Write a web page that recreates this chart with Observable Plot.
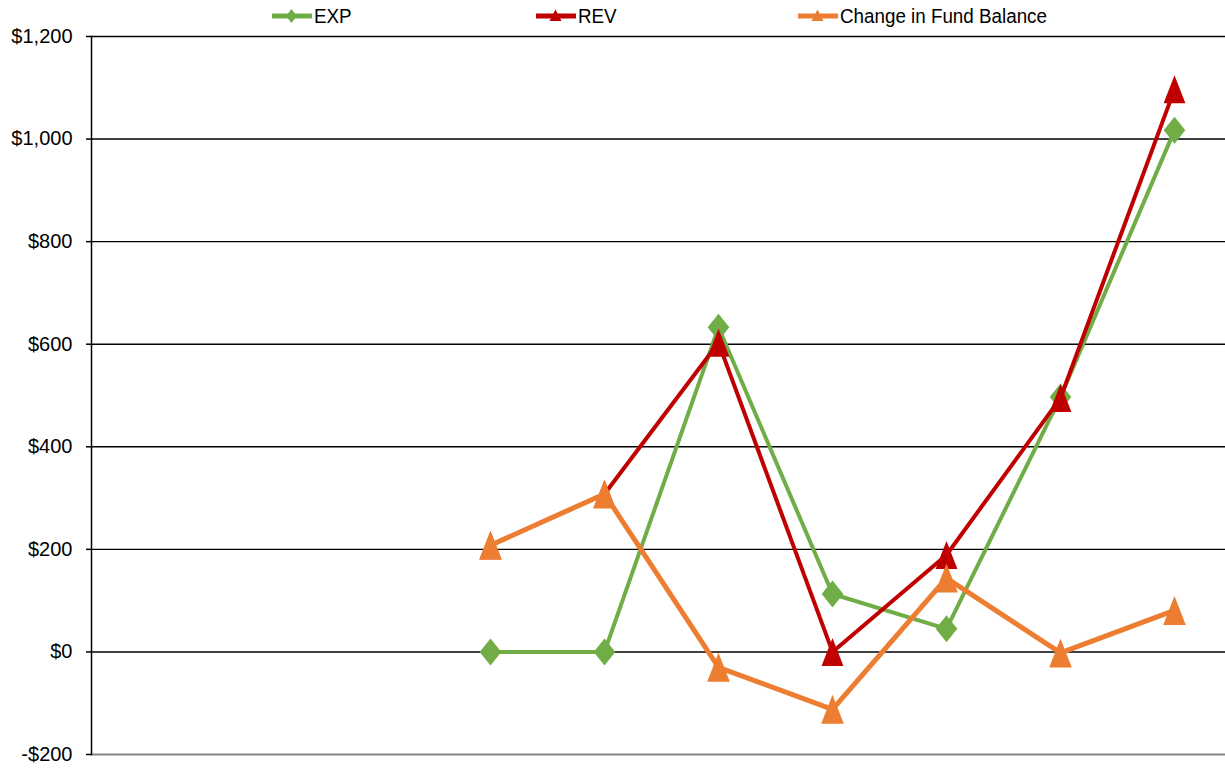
<!DOCTYPE html>
<html>
<head>
<meta charset="utf-8">
<script src="https://cdn.jsdelivr.net/npm/d3@7"></script>
<script src="https://cdn.jsdelivr.net/npm/@observablehq/plot@0.6"></script>
<style>
  html, body { margin: 0; padding: 0; background: #fff; }
  body { width: 1225px; height: 770px; overflow: hidden; font-family: "Liberation Sans", Arial, sans-serif; }
  #legend { position: relative; height: 16px; width: 1225px; z-index: 2; }
  .item { position: absolute; top: 4px; height: 24px; display: flex; align-items: center; }
  .item svg { display: block; }
  .item span { display: inline-block; font-size: 20px; color: #000; transform: scaleX(0.94); transform-origin: left center; margin-left: 2px; white-space: nowrap; }
  #chart { position: relative; z-index: 1; }
  #chart svg { display: block; }
</style>
</head>
<body>
<div id="legend"></div>
<div id="chart"></div>
<script>
// ---- data ----
const categories = ["P1", "P2", "P3", "P4", "P5", "P6", "P7", "P8", "P9", "P10"];
const expValues = [null, null, null, 0, 0, 633, 113, 45, 497, 1017];
const revValues = [null, null, null, 208, 308, 603, 0, 189, 495, 1097];
const changeValues = [null, null, null, 208, 308, -30, -112, 144, -2, 81];
const seriesNames = ["EXP", "REV", "Change in Fund Balance"];
const seriesColors = ["#70AD47", "#C00000", "#ED7D31"];
const yTicks = [-200, 0, 200, 400, 600, 800, 1000, 1200];

// ---- custom symbols ----
const tallDiamond = {
  draw(ctx, size) {
    const r = Math.sqrt(size / Math.PI);
    ctx.moveTo(0, -r); ctx.lineTo(0.8 * r, 0); ctx.lineTo(0, r); ctx.lineTo(-0.8 * r, 0); ctx.closePath();
  }
};
const tallTriangle = {
  draw(ctx, size) {
    const r = Math.sqrt(size / Math.PI);
    ctx.moveTo(0, -r); ctx.lineTo(0.78 * r, r); ctx.lineTo(-0.78 * r, r); ctx.closePath();
  }
};

function toRows(values) {
  return categories.map((c, i) => ({cat: c, value: values[i]})).filter(d => d.value != null);
}
const expRows = toRows(expValues);
const revRows = toRows(revValues);
const chgRows = toRows(changeValues);

const fmt = d => (d < 0 ? "-" : "") + "$" + d3.format(",")(Math.abs(d));

// ---- legend ----
const legend = document.getElementById("legend");
const legendLeft = [272, 536, 798];
const legendSymbols = ["diamond", "triangle", "triangle"];
seriesNames.forEach((name, i) => {
  const div = document.createElement("div");
  div.className = "item";
  div.style.left = legendLeft[i] + "px";
  const col = seriesColors[i];
  const marker = legendSymbols[i] === "diamond"
    ? `<path d="M19.5,5 L25,12 L19.5,19 L14,12 Z" fill="${col}"/>`
    : `<path d="M19.5,5.5 L25.5,17 L13.5,17 Z" fill="${col}"/>`;
  div.innerHTML = `<svg width="40" height="24"><line x1="0" x2="39" y1="12" y2="12" stroke="${col}" stroke-width="5" stroke-linecap="round"/>${marker}</svg><span>${name}</span>`;
  legend.appendChild(div);
});

// ---- chart ----
const chart = Plot.plot({
  width: 1225,
  height: 754,
  marginTop: 20,
  marginBottom: 16,
  marginLeft: 91,
  marginRight: 0,
  style: {fontFamily: "'Liberation Sans', Arial, sans-serif", fontSize: "20px", color: "#000", background: "transparent"},
  x: {type: "point", domain: categories, range: [89, 1232], padding: 0.5, axis: null},
  y: {domain: [-200, 1200], ticks: yTicks, tickFormat: fmt, label: null},
  marks: [
    Plot.ruleY(yTicks.filter(d => d > -200), {stroke: "#000", strokeWidth: 1.4}),
    Plot.ruleY([-200], {stroke: "#868686", strokeWidth: 2.2}),
    Plot.frame({anchor: "left", stroke: "#000", strokeWidth: 1.5}),
    Plot.axisY({ticks: yTicks, tickFormat: fmt, tickSize: 5, tickPadding: 14, stroke: "#000", strokeWidth: 1.5, fill: "#000", label: null, fontSize: 20}),
    Plot.line(expRows, {x: "cat", y: "value", stroke: seriesColors[0], strokeWidth: 4, strokeLinejoin: "round"}),
    Plot.dot(expRows, {x: "cat", y: "value", symbol: tallDiamond, r: 13.5, fill: seriesColors[0], stroke: "none"}),
    Plot.line(revRows, {x: "cat", y: "value", stroke: seriesColors[1], strokeWidth: 4, strokeLinejoin: "round"}),
    Plot.dot(revRows, {x: "cat", y: "value", symbol: tallTriangle, r: 14, fill: seriesColors[1], stroke: "none"}),
    Plot.line(chgRows, {x: "cat", y: "value", stroke: seriesColors[2], strokeWidth: 5, strokeLinejoin: "round"}),
    Plot.dot(chgRows, {x: "cat", y: "value", symbol: tallTriangle, r: 14.5, fill: seriesColors[2], stroke: "none"})
  ]
});
document.getElementById("chart").appendChild(chart);
</script>
</body>
</html>
